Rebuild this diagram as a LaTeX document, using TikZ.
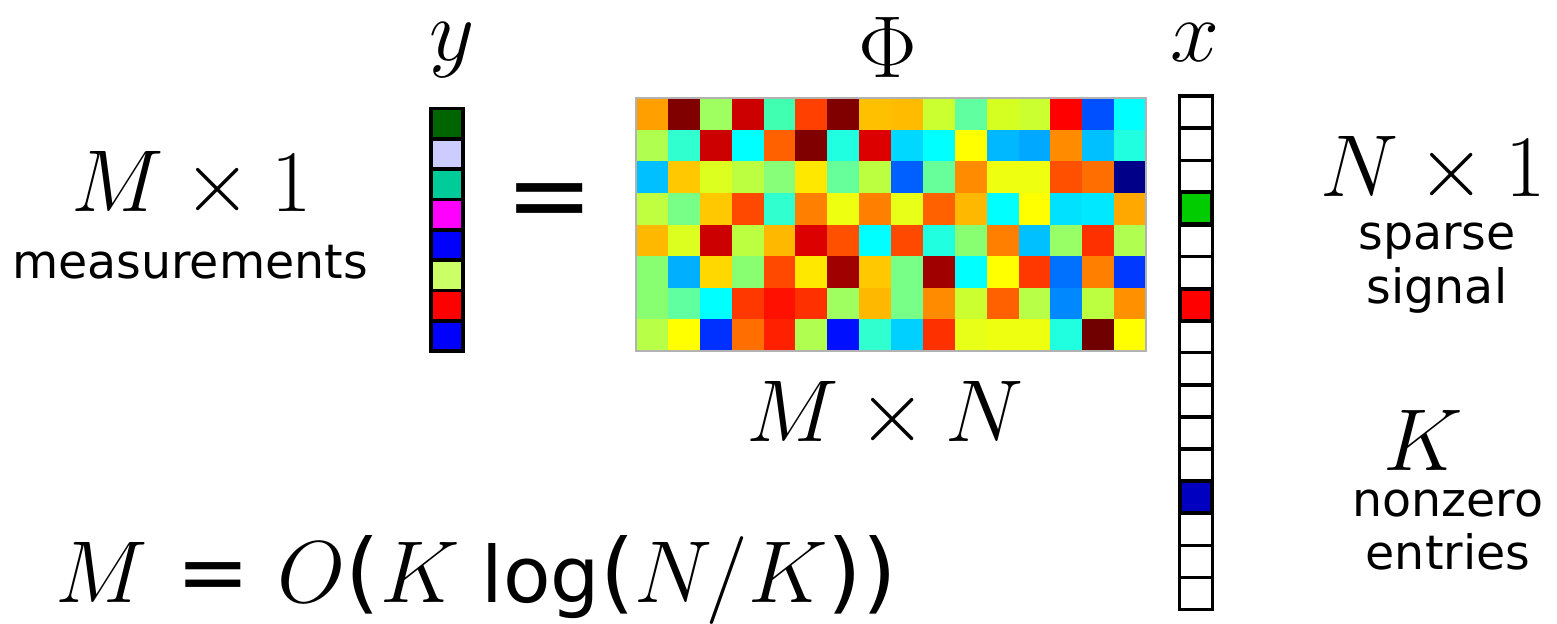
\documentclass[tikz,border=0pt]{standalone}
\usepackage[no-math]{fontspec}
\setmainfont{DejaVu Sans}
\newcommand\boundsans{\fontsize{22}{25}\selectfont}
\newcommand\boundparen{\fontsize{25}{28}\selectfont}
\begin{document}
\begin{tikzpicture}[x=0.02cm, y=-0.02cm, every node/.style={align=center, inner sep=0pt}]
\tikzset{
  bigmath/.style={font=\Huge, scale=2.01},
  eqsign/.style={font=\fontsize{60}{70}\selectfont},
  words/.style={font=\fontsize{27}{30.5}\selectfont},
  ycell/.style={draw=black, line width=2.1pt},
  xcell/.style={draw=black, line width=1.9pt, fill=white},
  xhit/.style={draw=black, line width=2.4pt}
}
\useasboundingbox (0,0) rectangle (1557,623);

% Phi (M x N, colour coded)
\foreach \rowlist [count=\r from 0] in {
  {FFA000,800000,A0FF60,CC0000,40FFB0,FF4000,800000,FFC000,FFBB00,CCFF30,60FFA0,D4FF20,CCFF30,FF0000,0050FF,00FFFF},
  {B0FF50,30FFD0,CC0000,00FFFF,FF6000,800000,20FFE0,DD0000,00D8FF,00FFFF,FFFF00,00B8FF,00A8FF,FF8C00,00C0FF,20FFE0},
  {00C0FF,FFC800,DDFF20,BBFF40,88FF78,FFE800,66FF99,BBFF40,0060FF,66FF99,FF8C00,EEFF10,EEFF10,FF5000,FF6E00,000088},
  {C0FF40,77FF88,FFC800,FF4800,30FFD0,FF8000,EEFF10,FF8000,E8FF18,FF6000,FFB800,00FFFF,FFFF00,00E0FF,00E8FF,FFA800},
  {FFB800,DDFF20,CC0000,BBFF40,FFB800,DD0000,FF5000,00FFFF,FF4800,20FFE0,88FF70,FF8000,00C0FF,99FF66,FF3000,B0FF50},
  {88FF70,00B0FF,FFD800,88FF70,FF4800,FFE800,A00000,FFC800,77FF88,A00000,00FFFF,FFFF00,FF3800,0070FF,FF8000,0038FF},
  {88FF70,60FFA0,00FFFF,FF3800,FF1000,FF3000,A0FF60,FFB800,77FF88,FF8C00,CCFF30,FF6000,B8FF48,0088FF,BBFF40,FF9000},
  {B8FF48,FFFF00,0030FF,FF6E00,FF2000,B0FF50,0010FF,30FFD0,00D0FF,FF3000,E8FF18,EEFF10,EEFF10,20FFE0,700000,FFFF00}}{
  \foreach \hex [count=\c from 0] in \rowlist {
    \definecolor{cellcol}{HTML}{\hex}
    \fill[cellcol] (636+\c*31.875, 98+\r*31.625) rectangle ++(31.875,31.625);
  }
}
\draw[gray!60, line width=0.6pt] (636,98) rectangle (1146,351);

% y (M x 1)
\foreach \hex [count=\i from 0] in {006400,CCCCFF,00CC99,FF00FF,0000FF,CCFF66,FF0000,0000FF} {
  \definecolor{ycol}{HTML}{\hex}
  \draw[ycell, fill=ycol] (431,108.5+\i*30.34) rectangle ++(32,30.34);
}

% x (N x 1, K nonzero)
\foreach \i in {0,...,15} {
  \draw[xcell] (1179.7,96+\i*32.1) rectangle ++(32.6,32.1);
}
\foreach \i/\hex in {3/00CC00, 6/FF0000, 12/0000C0} {
  \definecolor{xcol}{HTML}{\hex}
  \draw[xhit, fill=xcol] (1179.7,96+\i*32.1) rectangle ++(32.6,32.1);
}

% labels
\node[bigmath] (ylab) at (452,50) {$y$};
\node[bigmath] (philab) at (888,47) {$\Phi$};
\node[bigmath] (xlab) at (1195,43) {$x$};
\node[eqsign] (eq) at (550,208) {=};

\node[bigmath] (ydim) at (192,185) {$M\times 1$};
\node[words] (ytext) at (190,262) {measurements};
\node[bigmath] (phidim) at (885,415) {$M\times N$};
\node[bigmath] (xdim) at (1433,170) {$N\times 1$};
\node[words] (xtext) at (1437,268) {sparse\\signal};
\node[bigmath] (kdim) at (1423,440) {$K$};
\node[words] (ktext) at (1448,530) {nonzero\\entries};

\node[bigmath, anchor=west] (bound) at (55,580)
  {$M$ = $O${\boundparen(}$K$\hspace{0.25em}{\boundsans log}{\boundparen(}$N/K${\boundparen))}};

\end{tikzpicture}
\end{document}
